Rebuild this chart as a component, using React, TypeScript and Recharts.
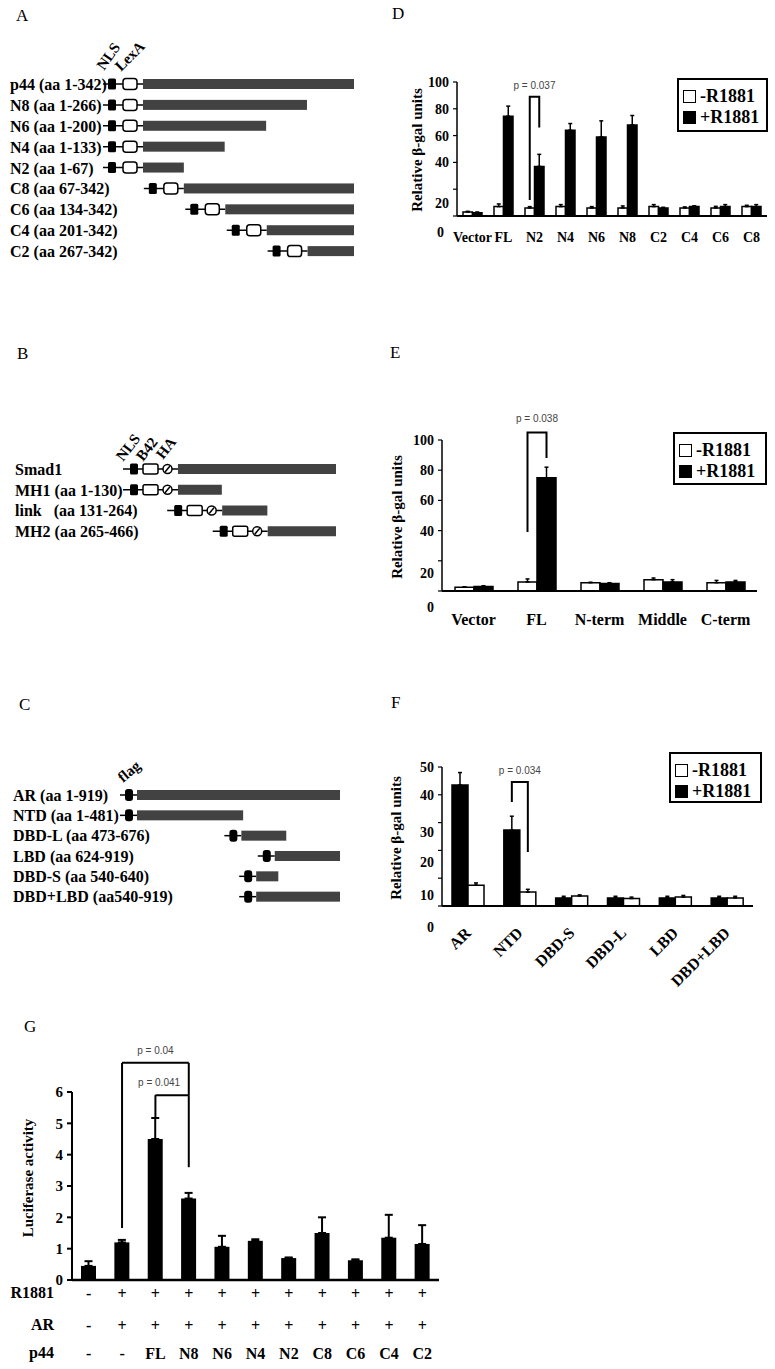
import React from 'react';
import { BarChart, Bar, XAxis, YAxis, ErrorBar, Legend, ReferenceLine } from 'recharts';

const SERIF = '"Liberation Serif", "Times New Roman", serif';
const SANS = '"Liberation Sans", Arial, sans-serif';
const DOMAIN_GRAY = '#424242';

// A: LexA-p44 constructs
const aNames = ['p44 (aa 1-342)', 'N8 (aa 1-266)', 'N6 (aa 1-200)', 'N4 (aa 1-133)', 'N2 (aa 1-67)', 'C8 (aa 67-342)', 'C6 (aa 134-342)', 'C4 (aa 201-342)', 'C2 (aa 267-342)'];
const aStart = [1, 1, 1, 1, 1, 67, 134, 201, 267];
const aEnd = [342, 266, 200, 133, 67, 342, 342, 342, 342];

// B: Smad1 constructs
const bNames = ['Smad1', 'MH1 (aa 1-130)', 'link   (aa 131-264)', 'MH2 (aa 265-466)'];
const bStart = [1, 1, 131, 265];
const bEnd = [466, 130, 264, 466];

// C: AR constructs
const cNames = ['AR (aa 1-919)', 'NTD (aa 1-481)', 'DBD-L (aa 473-676)', 'LBD (aa 624-919)', 'DBD-S (aa 540-640)', 'DBD+LBD (aa540-919)'];
const cStart = [1, 1, 473, 624, 540, 540];
const cEnd = [919, 481, 676, 919, 640, 919];

// D: p44 deletions, beta-gal
const dCats = ['Vector', 'FL', 'N2', 'N4', 'N6', 'N8', 'C2', 'C4', 'C6', 'C8'];
const dMinus = [3, 7, 6, 7, 6, 6, 7, 6, 6, 7];
const dMinusErr = [0.5, 2, 1, 1.5, 1, 1.5, 1.5, 0.8, 1.2, 1];
const dPlus = [2.5, 74.5, 37, 64, 59, 68, 6, 7, 7, 7];
const dPlusErr = [0.5, 7.5, 9, 5, 12, 7, 0.5, 0.6, 1.5, 1.5];
const dTicks = [0, 20, 40, 60, 80, 100];

// E: Smad1 fragments
const eCats = ['Vector', 'FL', 'N-term', 'Middle', 'C-term'];
const eMinus = [2.5, 6, 5.5, 7.5, 5.5];
const eMinusErr = [0.3, 2, 0.3, 1.1, 1.5];
const ePlus = [3, 75, 5, 6, 6];
const ePlusErr = [0.5, 7, 0.5, 1.5, 1];
const eTicks = [0, 20, 40, 60, 80, 100];

// F: AR fragments
const fCats = ['AR', 'NTD', 'DBD-S', 'DBD-L', 'LBD', 'DBD+LBD'];
const fPlus = [43.5, 27.3, 2.9, 2.9, 2.9, 2.9];
const fPlusErr = [4.5, 5, 0.6, 0.6, 0.6, 0.6];
const fMinus = [7.5, 5, 3.6, 2.7, 3.2, 2.9];
const fMinusErr = [0.8, 1, 0.4, 0.5, 0.6, 0.6];
const fTicks = [0, 10, 20, 30, 40, 50];

// G: luciferase
const gR1881 = ['-', '+', '+', '+', '+', '+', '+', '+', '+', '+', '+'];
const gAR = ['-', '+', '+', '+', '+', '+', '+', '+', '+', '+', '+'];
const gP44 = ['-', '-', 'FL', 'N8', 'N6', 'N4', 'N2', 'C8', 'C6', 'C4', 'C2'];
const gValue = [0.45, 1.2, 4.5, 2.6, 1.06, 1.25, 0.7, 1.5, 0.63, 1.35, 1.15];
const gErr = [0.15, 0.08, 0.67, 0.18, 0.35, 0.05, 0.02, 0.5, 0.03, 0.73, 0.6];
const gTicks = [0, 1, 2, 3, 4, 5, 6];
const gBrackets = [
  { from: 1, to: 3, fromLow: 1.66, toLow: 5.9, top: 6.93, text: 'p = 0.04', dx: 0 },
  { from: 2, to: 3, fromLow: 5.2, toLow: 3.6, top: 5.9, text: 'p = 0.041', dx: -13 },
];

const seriesName: Record<string, string> = { minus: '-R1881', plus: '+R1881' };
const seriesFill: Record<string, string> = { minus: '#fff', plus: '#000' };
const legendOrder = ['-R1881', '+R1881'];
const legendFill: Record<string, string> = { '-R1881': '#fff', '+R1881': '#000' };

const schematicRows = (names: string[], start: number[], end: number[]) =>
  names.map((name, i) => ({ name, range: [start[i], end[i]] }));

const groupRows = (cats: string[], minus: number[], minusErr: number[], plus: number[], plusErr: number[]) =>
  cats.map((name, i) => ({ name, minus: minus[i], minusErr: [0, minusErr[i]], plus: plus[i], plusErr: [0, plusErr[i]] }));

const gRows = gP44.map((p, i) => ({ key: `${gR1881[i]}|${gAR[i]}|${p}|${i}`, value: gValue[i], err: [0, gErr[i]] }));

// ---------- schematic shapes ----------
const LexAShape = (p: any) => {
  const { x, y, width, height } = p;
  const cy = y + height / 2;
  return (
    <g>
      <line x1={x - 40} x2={x} y1={cy} y2={cy} stroke="#000" strokeWidth={1.5} />
      <rect x={x - 35} y={cy - 5.5} width={8} height={11} rx={1.5} fill="#000" />
      <rect x={x - 20} y={cy - 5.5} width={14} height={11} rx={3} fill="#fff" stroke="#000" strokeWidth={1.5} />
      <rect x={x} y={y} width={width} height={height} fill={DOMAIN_GRAY} />
    </g>
  );
};

const SmadShape = (p: any) => {
  const { x, y, width, height } = p;
  const cy = y + height / 2;
  return (
    <g>
      <line x1={x - 55} x2={x} y1={cy} y2={cy} stroke="#000" strokeWidth={1.5} />
      <rect x={x - 48} y={cy - 5.5} width={8} height={11} rx={1.5} fill="#000" />
      <rect x={x - 35} y={cy - 5} width={15} height={10} rx={2} fill="#fff" stroke="#000" strokeWidth={1.5} />
      <circle cx={x - 10.5} cy={cy} r={4.5} fill="#fff" stroke="#000" strokeWidth={1.5} />
      <line x1={x - 13} y1={cy + 3} x2={x - 8} y2={cy - 3} stroke="#000" strokeWidth={1.5} />
      <rect x={x} y={y} width={width} height={height} fill={DOMAIN_GRAY} />
    </g>
  );
};

const FlagShape = (p: any) => {
  const { x, y, width, height } = p;
  const cy = y + height / 2;
  return (
    <g>
      <line x1={x - 17} x2={x} y1={cy} y2={cy} stroke="#000" strokeWidth={1.5} />
      <rect x={x - 12} y={cy - 6} width={8} height={12} rx={3} fill="#000" />
      <rect x={x} y={y} width={width} height={height} fill={DOMAIN_GRAY} />
    </g>
  );
};

const RowLabel = ({ y, payload, labelX }: any) => (
  <text x={labelX} y={y} dy="0.35em" textAnchor="start" fontSize={16} fontWeight={700} fontFamily={SERIF} fill="#000" style={{ whiteSpace: 'pre' }}>
    {payload.value}
  </text>
);

const Schematic = ({ data, max, shape, width, height, margin, axisWidth, labelX }: any) => (
  <BarChart layout="vertical" width={width} height={height} data={data} margin={margin} barSize={10}>
    <XAxis type="number" domain={[1, max]} hide />
    <YAxis type="category" dataKey="name" width={axisWidth} axisLine={false} tickLine={false} interval={0} tick={<RowLabel labelX={labelX} />} />
    <Bar dataKey="range" shape={shape} isAnimationActive={false} />
  </BarChart>
);

// ---------- bar chart helpers ----------
const NudgedTick = ({ x, y, payload, nudges, size }: any) => {
  const [dx, dy] = (nudges && nudges[payload.value]) || [0, 0];
  return (
    <text x={x + dx} y={y + dy} dy="0.35em" textAnchor="end" fontSize={size || 14} fontWeight={700} fontFamily={SERIF} fill="#000">
      {payload.value}
    </text>
  );
};

const SlantTick = ({ x, y, payload }: any) => (
  <text x={x} y={y} transform={`rotate(-45 ${x} ${y})`} textAnchor="end" dy="0.35em" fontSize={16} fontWeight={700} fontFamily={SERIF} fill="#000">
    {payload.value}
  </text>
);

const StackTick = ({ x, y, payload }: any) => {
  const parts = String(payload.value).split('|').slice(0, 3);
  const offs = [13, 45, 73];
  return (
    <g>
      {parts.map((t, i) => (
        <text key={i} x={x} y={y + offs[i]} dy="0.35em" textAnchor="middle" fontSize={16} fontWeight={700} fontFamily={SERIF} fill="#000">
          {t}
        </text>
      ))}
    </g>
  );
};

const BoxLegend = ({ payload }: any) => {
  const items = [...(payload || [])].sort((a, b) => legendOrder.indexOf(a.value) - legendOrder.indexOf(b.value));
  return (
    <div style={{ boxSizing: 'border-box', width: '100%', height: '100%', border: '2px solid #000', padding: '6px 0 0 4px', background: '#fff' }}>
      {items.map((it) => (
        <div key={it.value} style={{ display: 'flex', alignItems: 'center', height: 21, fontFamily: SERIF, fontWeight: 700, fontSize: 18, color: '#000' }}>
          <span style={{ display: 'inline-block', boxSizing: 'border-box', width: 13, height: 13, border: '1.5px solid #000', background: legendFill[it.value], marginRight: 4 }} />
          {it.value}
        </div>
      ))}
    </div>
  );
};

const bracketLabel = (b: any, cats: string[]) => (props: any) => {
  const { x, y, width, height, value, index } = props;
  if (cats[index] !== b.category || !value) return null;
  const unit = height / value;
  const base = y + height;
  const py = (v: number) => base - v * unit;
  const lx = x + width * b.left;
  const rx = x + width * b.right;
  return (
    <g key="bracket">
      <polyline points={`${lx},${py(b.leftFrom)} ${lx},${py(b.top)} ${rx},${py(b.top)} ${rx},${py(b.rightFrom)}`} fill="none" stroke="#000" strokeWidth={2} />
      <text x={(lx + rx) / 2} y={py(b.top) - b.gap} textAnchor="middle" fontSize={10} fontFamily={SANS} fill="#444">
        {b.text}
      </text>
    </g>
  );
};

const GroupChart = (p: any) => {
  const { rows, cats, order, width, height, top, yWidth, right, xHeight, domain, ticks, nudges, barSize, bracket, xTick, xMargin, legendPos } = p;
  return (
    <BarChart width={width} height={height} data={rows} margin={{ top, right, bottom: 0, left: 0 }} barGap={0}>
      <XAxis dataKey="name" interval={0} height={xHeight} tickLine={false} tickSize={0} tickMargin={xMargin} axisLine={{ stroke: '#000', strokeWidth: 2 }} tick={xTick} />
      <YAxis type="number" domain={domain} ticks={ticks} width={yWidth} tickSize={4} tickMargin={4} axisLine={{ stroke: '#000', strokeWidth: 1.5 }} tickLine={{ stroke: '#000', strokeWidth: 1.2 }} tick={<NudgedTick nudges={nudges} />} />
      <Legend layout="horizontal" verticalAlign="middle" align="center" content={<BoxLegend />} wrapperStyle={{ ...legendPos, margin: 0 }} />
      {order.map((s: string) => (
        <Bar key={s} dataKey={s} name={seriesName[s]} fill={seriesFill[s]} stroke="#000" strokeWidth={1.5} barSize={barSize} isAnimationActive={false} label={s === 'plus' ? bracketLabel(bracket, cats) : undefined}>
          <ErrorBar dataKey={`${s}Err`} width={2} stroke="#000" strokeWidth={1.5} />
        </Bar>
      ))}
    </BarChart>
  );
};

// ---------- page text helpers ----------
const Letter = ({ x, y, t }: any) => (
  <div style={{ position: 'absolute', left: x - 6, top: y - 10, fontSize: 17, lineHeight: '20px', fontFamily: SERIF }}>{t}</div>
);

const Tag = ({ x, y, angle, t }: any) => (
  <div style={{ position: 'absolute', left: x, top: y - 13, transform: `rotate(${angle}deg)`, transformOrigin: '0 13px', fontFamily: SERIF, fontWeight: 700, fontSize: 15, lineHeight: '16px', whiteSpace: 'nowrap' }}>
    {t}
  </div>
);

const VTitle = ({ cx, cy, t }: any) => (
  <div style={{ position: 'absolute', left: cx, top: cy, transform: 'translate(-50%, -50%) rotate(-90deg)', whiteSpace: 'nowrap', fontFamily: SERIF, fontWeight: 700, fontSize: 15, lineHeight: '18px' }}>
    {t}
  </div>
);

const RowHead = ({ cy, t }: any) => (
  <div style={{ position: 'absolute', left: 0, width: 54, top: cy - 10, textAlign: 'right', fontFamily: SERIF, fontWeight: 700, fontSize: 16, lineHeight: '20px' }}>{t}</div>
);

const at = (left: number, top: number): React.CSSProperties => ({ position: 'absolute', left, top });

export default function App() {
  return (
    <div style={{ position: 'absolute', left: 0, top: 0, width: 775, height: 1369, background: '#fff', fontFamily: SERIF, overflow: 'hidden' }}>
      <Letter x={22} y={16} t="A" />
      <Letter x={398} y={14} t="D" />
      <Letter x={23} y={354} t="B" />
      <Letter x={396} y={353} t="E" />
      <Letter x={25} y={705} t="C" />
      <Letter x={397} y={703} t="F" />
      <Letter x={30} y={1027} t="G" />

      {/* A */}
      <div style={at(0, 60)}>
        <Schematic data={schematicRows(aNames, aStart, aEnd)} max={342} shape={LexAShape} width={380} height={213} margin={{ top: 14, right: 26, bottom: 11, left: 0 }} axisWidth={143} labelX={10} />
      </div>
      <Tag x={104} y={71} angle={-55} t="NLS" />
      <Tag x={121} y={72} angle={-45} t="LexA" />

      {/* B */}
      <div style={at(0, 440)}>
        <Schematic data={schematicRows(bNames, bStart, bEnd)} max={466} shape={SmadShape} width={380} height={110} margin={{ top: 19, right: 44, bottom: 8, left: 0 }} axisWidth={178} labelX={15} />
      </div>
      <Tag x={123} y={462} angle={-52} t="NLS" />
      <Tag x={143} y={462} angle={-52} t="B42" />
      <Tag x={163} y={460} angle={-52} t="HA" />

      {/* C */}
      <div style={at(0, 770)}>
        <Schematic data={schematicRows(cNames, cStart, cEnd)} max={919} shape={FlagShape} width={380} height={150} margin={{ top: 15, right: 40, bottom: 13, left: 0 }} axisWidth={137} labelX={13} />
      </div>
      <Tag x={123} y={783} angle={-40} t="flag" />

      {/* D */}
      <div style={at(370, 60)}>
        <GroupChart
          rows={groupRows(dCats, dMinus, dMinusErr, dPlus, dPlusErr)}
          cats={dCats}
          order={['minus', 'plus']}
          width={405}
          height={200}
          top={22}
          yWidth={87}
          right={8}
          xHeight={44}
          domain={[0, 100]}
          ticks={dTicks}
          nudges={{ 20: [0, 14], 0: [-5, 16] }}
          barSize={9.5}
          bracket={{ category: 'N2', left: -0.5, right: 0.5, leftFrom: 12, rightFrom: 66, top: 89, text: 'p = 0.037', gap: 8 }}
          xTick={{ fontSize: 14, fontWeight: 700, fontFamily: SERIF, fill: '#000' }}
          xMargin={16}
          legendPos={{ left: 307, top: 18, width: 91, height: 54 }}
        />
      </div>
      <VTitle cx={417} cy={150} t="Relative β-gal units" />

      {/* E */}
      <div style={at(370, 400)}>
        <GroupChart
          rows={groupRows(eCats, eMinus, eMinusErr, ePlus, ePlusErr)}
          cats={eCats}
          order={['minus', 'plus']}
          width={405}
          height={250}
          top={40}
          yWidth={72}
          right={18}
          xHeight={59}
          domain={[0, 100]}
          ticks={eTicks}
          nudges={{ 20: [0, 12], 0: [0, 16] }}
          barSize={19}
          bracket={{ category: 'FL', left: -0.5, right: 0.5, leftFrom: 39, rightFrom: 88, top: 105, text: 'p = 0.038', gap: 10 }}
          xTick={{ fontSize: 16, fontWeight: 700, fontFamily: SERIF, fill: '#000' }}
          xMargin={23}
          legendPos={{ left: 303, top: 32, width: 94, height: 53 }}
        />
      </div>
      <VTitle cx={397} cy={517} t="Relative β-gal units" />

      {/* F */}
      <div style={at(370, 740)}>
        <GroupChart
          rows={groupRows(fCats, fMinus, fMinusErr, fPlus, fPlusErr)}
          cats={fCats}
          order={['plus', 'minus']}
          width={405}
          height={300}
          top={27}
          yWidth={72}
          right={22}
          xHeight={134}
          domain={[0, 50]}
          ticks={fTicks}
          nudges={{ 30: [0, 9], 20: [0, 12], 10: [0, 17], 0: [0, 21] }}
          barSize={16}
          bracket={{ category: 'NTD', left: 0.5, right: 1.5, leftFrom: 37.4, rightFrom: 19.4, top: 44.6, text: 'p = 0.034', gap: 8 }}
          xTick={<SlantTick />}
          xMargin={24}
          legendPos={{ left: 299, top: 12, width: 93, height: 51 }}
        />
      </div>
      <VTitle cx={396} cy={838} t="Relative β-gal units" />

      {/* G */}
      <div style={at(0, 1040)}>
        <BarChart width={460} height={329} data={gRows} margin={{ top: 52, right: 21, bottom: 0, left: 0 }}>
          <XAxis dataKey="key" interval={0} height={89} tickLine={false} tickSize={0} tickMargin={0} axisLine={{ stroke: '#000', strokeWidth: 2.5 }} tick={<StackTick />} />
          <YAxis type="number" domain={[0, 6]} ticks={gTicks} width={72} tickSize={5} tickMargin={4} axisLine={{ stroke: '#000', strokeWidth: 2 }} tickLine={{ stroke: '#000', strokeWidth: 2 }} tick={<NudgedTick size={15} />} />
          <Bar dataKey="value" fill="#000" barSize={15} isAnimationActive={false}>
            <ErrorBar dataKey="err" width={4} stroke="#000" strokeWidth={2} />
          </Bar>
          {gBrackets.flatMap((b, i) => {
            const a = gRows[b.from].key;
            const z = gRows[b.to].key;
            const line = { stroke: '#000', strokeWidth: 2, ifOverflow: 'visible' as const };
            return [
              <ReferenceLine key={`l${i}`} segment={[{ x: a, y: b.fromLow }, { x: a, y: b.top }]} {...line} />,
              <ReferenceLine
                key={`t${i}`}
                segment={[{ x: a, y: b.top }, { x: z, y: b.top }]}
                {...line}
                label={{ value: b.text, position: 'top', offset: 9, dx: b.dx, fontSize: 10, fontFamily: SANS, fill: '#444' }}
              />,
              <ReferenceLine key={`r${i}`} segment={[{ x: z, y: b.top }, { x: z, y: b.toLow }]} {...line} />,
            ];
          })}
        </BarChart>
      </div>
      <VTitle cx={28} cy={1178} t="Luciferase activity" />
      <RowHead cy={1293} t="R1881" />
      <RowHead cy={1325} t="AR" />
      <RowHead cy={1353} t="p44" />
    </div>
  );
}
